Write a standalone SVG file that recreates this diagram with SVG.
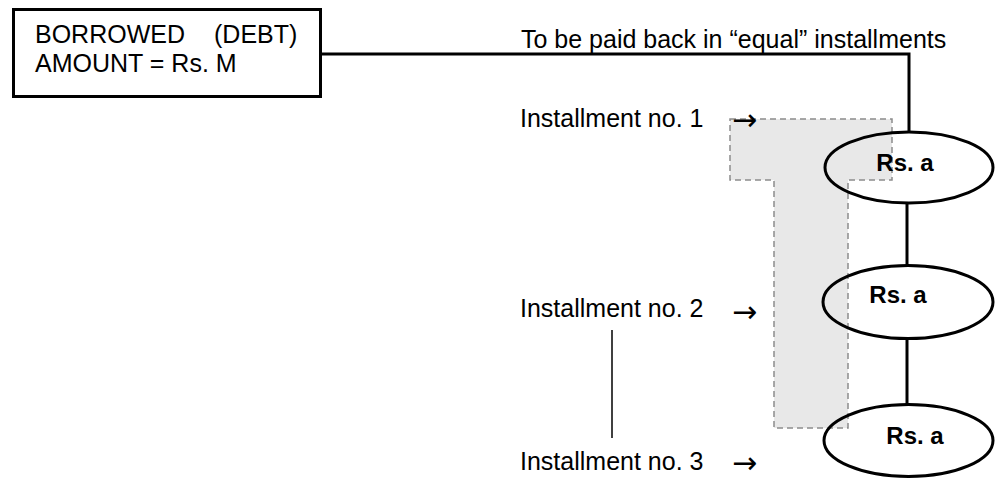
<svg xmlns="http://www.w3.org/2000/svg" width="998" height="480" viewBox="0 0 998 480">
  <style>
    .txt { font-family: "Liberation Sans", Arial, sans-serif; font-size: 25px; fill: #000; }
    .arr { font-family: "DejaVu Sans", sans-serif; font-size: 30px; fill: #000; }
    .lbl { font-family: "Liberation Sans", Arial, sans-serif; font-size: 24px; font-weight: bold; fill: #000; text-anchor: middle; }
    .node { fill: none; stroke: #000; stroke-width: 3; }
    .wire { fill: none; stroke: #000; stroke-width: 3; }
    .thin { fill: none; stroke: #000; stroke-width: 1.5; }
    .band { fill: #e8e8e8; stroke: #8c8c8c; stroke-width: 1.5; stroke-dasharray: 6 4; }
  </style>
  <rect width="998" height="480" fill="#fff"/>

  <!-- shaded T-shaped highlight behind the first installments -->
  <g id="highlight">
    <polygon class="band" points="730,119 892,119 892,180 848,180 848,428 774,428 774,180 730,180"/>
  </g>

  <!-- debt box -->
  <g id="debt">
    <rect class="node" x="13.5" y="9.5" width="307" height="87"/>
    <text class="txt" x="35" y="43">BORROWED</text>
    <text class="txt" x="214" y="43">(DEBT)</text>
    <text class="txt" x="35" y="72">AMOUNT = Rs. M</text>
  </g>

  <!-- connectors -->
  <g id="connectors">
    <path class="wire" d="M322,54 H909 V132"/>
    <line class="wire" x1="907" y1="203" x2="907" y2="265"/>
    <line class="wire" x1="907" y1="339" x2="907" y2="404"/>
    <line class="thin" x1="612" y1="330" x2="612" y2="438"/>
  </g>

  <g id="caption">
    <text class="txt" x="521" y="48">To be paid back in “equal” installments</text>
  </g>

  <!-- installment labels -->
  <g id="inst1">
    <text class="txt" x="520" y="127">Installment no. 1</text>
    <text class="arr" x="732" y="129.5">→</text>
  </g>
  <g id="inst2">
    <text class="txt" x="520" y="317">Installment no. 2</text>
    <text class="arr" x="732" y="321.5">→</text>
  </g>
  <g id="inst3">
    <text class="txt" x="520" y="470">Installment no. 3</text>
    <text class="arr" x="732" y="472.5">→</text>
  </g>

  <!-- installment amounts -->
  <g id="pay1">
    <ellipse class="node" cx="909" cy="167.5" rx="84" ry="35.5"/>
    <text class="lbl" x="905" y="171">Rs. a</text>
  </g>
  <g id="pay2">
    <ellipse class="node" cx="908" cy="302" rx="85" ry="36.5"/>
    <text class="lbl" x="898" y="303">Rs. a</text>
  </g>
  <g id="pay3">
    <ellipse class="node" cx="908.5" cy="440.5" rx="84.5" ry="36"/>
    <text class="lbl" x="915" y="444">Rs. a</text>
  </g>
</svg>
